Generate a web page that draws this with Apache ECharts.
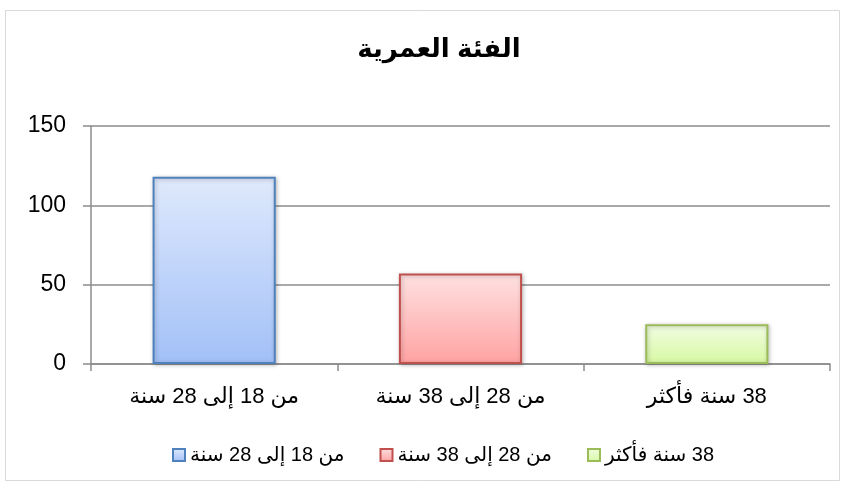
<!DOCTYPE html>
<html>
<head>
<meta charset="utf-8">
<script src="https://cdn.jsdelivr.net/npm/echarts@6/dist/echarts.min.js"></script>
<style>
  html, body { margin: 0; padding: 0; background: #fff; }
  #chart { width: 845px; height: 484px; direction: rtl; }
</style>
</head>
<body>
<div id="chart" dir="rtl"></div>
<script>
// البيانات
const categories = ['من 18 إلى 28 سنة', 'من 28 إلى 38 سنة', '38 سنة فأكثر'];
const values = [118, 57, 25];
const yTicks = { min: 0, max: 150, interval: 50 };

// ألوان كل فئة: أعلى، أسفل، حدود
const palette = [
  { top: '#dfe9fc', bottom: '#a2c0f7', border: '#4f81bd' },
  { top: '#fee1e1', bottom: '#ffa2a2', border: '#c0504d' },
  { top: '#f1fde3', bottom: '#d7f8a2', border: '#9bbb59' }
];

const font = 'Arial, "Liberation Sans", "DejaVu Sans", sans-serif';

const series = categories.map((name, i) => ({
  name: name,
  type: 'bar',
  stack: 'age',
  barWidth: '50%',
  data: categories.map((c, j) => (j === i ? values[i] : '-')),
  itemStyle: {
    color: new echarts.graphic.LinearGradient(0, 0, 0, 1, [
      { offset: 0, color: palette[i].top },
      { offset: 1, color: palette[i].bottom }
    ]),
    borderColor: palette[i].border,
    borderWidth: 2,
    shadowColor: 'rgba(0,0,0,0.25)',
    shadowBlur: 4,
    shadowOffsetX: 1,
    shadowOffsetY: 1
  }
}));

const chart = echarts.init(document.getElementById('chart'));
chart.setOption({
  animation: false,
  backgroundColor: '#fff',
  graphic: [{
    type: 'rect',
    shape: { x: 5.5, y: 10.5, width: 834, height: 470 },
    style: { fill: 'none', stroke: '#d9d9d9', lineWidth: 1 },
    silent: true
  }],
  title: {
    text: 'الفئة العمرية',
    left: 434,
    textAlign: 'center',
    top: 32,
    textStyle: { fontFamily: font, fontSize: 26, fontWeight: 'bold', color: '#000' }
  },
  legend: {
    data: categories,
    icon: 'rect',
    top: 440,
    left: 167,
    align: 'left',
    itemWidth: 12,
    itemHeight: 12,
    itemGap: 35,
    textStyle: { fontFamily: font, fontSize: 20, color: '#000' }
  },
  grid: { left: 91, right: 15, top: 126, bottom: 120 },
  xAxis: {
    type: 'category',
    data: categories,
    axisLine: { lineStyle: { color: '#8c8c8c', width: 1.5 } },
    axisTick: { show: true, length: 7, lineStyle: { color: '#8c8c8c', width: 1.5 } },
    axisLabel: { fontFamily: font, fontSize: 22, color: '#000', margin: 22 }
  },
  yAxis: {
    type: 'value',
    min: yTicks.min,
    max: yTicks.max,
    interval: yTicks.interval,
    axisLine: { show: true, lineStyle: { color: '#8c8c8c', width: 1.5 } },
    axisTick: { show: true, length: 8, lineStyle: { color: '#8c8c8c', width: 1.5 } },
    splitLine: { lineStyle: { color: '#8c8c8c', width: 1.5 } },
    axisLabel: { fontFamily: font, fontSize: 23, color: '#000', margin: 25 }
  },
  series: series
});
</script>
</body>
</html>
